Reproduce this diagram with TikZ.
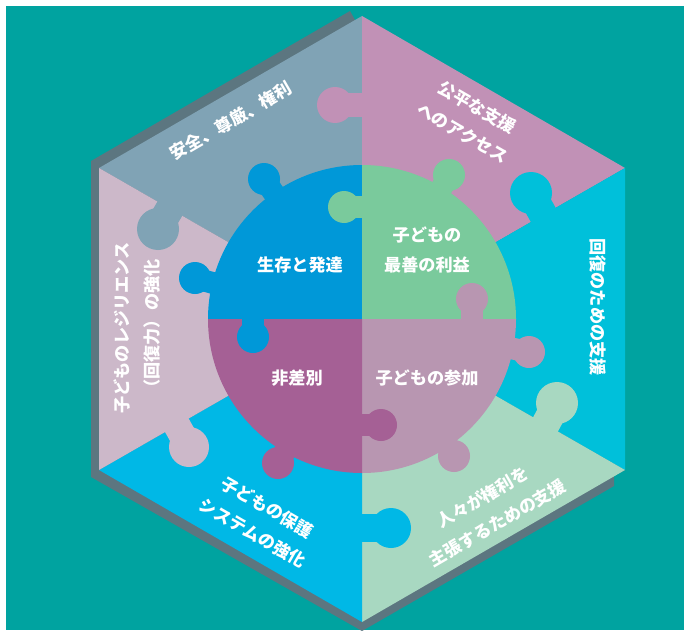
\documentclass[tikz,border=0pt]{standalone}
\usepackage{fontspec}
\setmainfont{Noto Sans CJK JP}
\usepackage{tikz}

\definecolor{bgteal}{RGB}{0,163,160}
\definecolor{hexshadow}{RGB}{92,118,128}
\definecolor{pcgrey}{RGB}{128,163,181}
\definecolor{pcpink}{RGB}{193,145,182}
\definecolor{pccyan}{RGB}{0,192,218}
\definecolor{pcmint}{RGB}{168,216,193}
\definecolor{pcsky}{RGB}{0,184,230}
\definecolor{pcmauve}{RGB}{204,184,201}
\definecolor{qblue}{RGB}{0,152,216}
\definecolor{qgreen}{RGB}{122,202,156}
\definecolor{qpurple}{RGB}{165,96,149}
\definecolor{qmauve}{RGB}{184,150,177}

\begin{document}
\begin{tikzpicture}[x=0.025cm,y=-0.025cm,
    lbl/.style={text=white,font=\bfseries\fontsize{12.2}{21}\selectfont,align=center,inner sep=0pt}]
				\useasboundingbox (0,0) rectangle (688,630);
				\fill[white] (0,0) rectangle (688,630);
				\fill[bgteal] (6,6) rectangle (684,630);
				% corners of the hexagon
				\coordinate (C) at (362,319);
				\coordinate (T) at (362,16);
				\coordinate (UR) at (625,168);
				\coordinate (LR) at (625,470);
				\coordinate (B) at (362,622);
				\coordinate (LL) at (99,470);
				\coordinate (UL) at (99,168);
				% shadow
				\fill[hexshadow] (350,11) -- (91,161) -- (91,477) -- (362,631) -- (614,486) -- (614,476) -- (LR) -- (C) -- (355,20) -- cycle;
				% outer pieces
				\fill[pcgrey] (C) -- (UL) -- (T) -- cycle;
				\fill[pcpink] (C) -- (T) -- (UR) -- cycle;
				\fill[pccyan] (C) -- (UR) -- (LR) -- cycle;
				\fill[pcmint] (C) -- (LR) -- (B) -- cycle;
				\fill[pcsky] (C) -- (B) -- (LL) -- cycle;
				\fill[pcmauve] (C) -- (LL) -- (UL) -- cycle;
				\foreach \col/\bx/\by/\kx/\ky/\r in {pcgrey/172/205/158/229/21, pcpink/367/105/335/105/18,
						pccyan/545/218/531/193/21, pcmint/543/429/557/403/21,
						pcsky/358/528/391/528/20, pcmauve/175/422/189/447/20}
					{\draw[\col,line width=\r*0.034cm] (\bx,\by) -- (\kx,\ky);
					 \fill[\col] (\kx,\ky) circle (\r);}
				% inner circle
				\fill[qblue] (C) -- (208,319) arc[start angle=180,end angle=270,radius=154] -- cycle;
				\fill[qgreen] (C) -- (362,165) arc[start angle=270,end angle=360,radius=154] -- cycle;
				\fill[qmauve] (C) -- (516,319) arc[start angle=0,end angle=90,radius=154] -- cycle;
				\fill[qpurple] (C) -- (362,473) arc[start angle=90,end angle=180,radius=154] -- cycle;
				\foreach \col/\bx/\by/\kx/\ky/\r in {qblue/278/199/264/179/16, qblue/220/285/195/278/16,
						qblue/253/314/253/337/16, qgreen/368/207/344/207/16, qgreen/437/196/449/175/16,
						qmauve/472/324/472/299/16, qmauve/505/347/529/352/16, qmauve/443/440/454/456/16,
						qpurple/357/425/381/425/16, qpurple/290/443/278/463/16}
					{\draw[\col,line width=\r*0.034cm] (\bx,\by) -- (\kx,\ky);
					 \fill[\col] (\kx,\ky) circle (\r);}
				% labels
				\node[lbl] (survival) at (300,265) {生存と発達};
				\node[lbl] (interest) at (427,250) {子どもの\\最善の利益};
				\node[lbl] (nondiscr) at (297,378) {非差別};
				\node[lbl] (particip) at (427,378) {子どもの参加};
				\node[lbl,rotate=30] (safety) at (231,121) {安全、尊厳、権利};
				\node[lbl,rotate=-30] (access) at (470,120) {公平な支援\\へのアクセス};
				\node[lbl,rotate=-90] (recovery) at (598,307) {回復のための支援};
				\node[lbl,rotate=30] (claim) at (490,510) {人々が権利を\\主張するための支援};
				\node[lbl,rotate=-30] (protect) at (260,520) {子どもの保護\\システムの強化};
				\node[lbl,rotate=90] (resilience) at (137,328) {子どものレジリエンス\\（回復力）の強化};
			\end{tikzpicture}
\end{document}
